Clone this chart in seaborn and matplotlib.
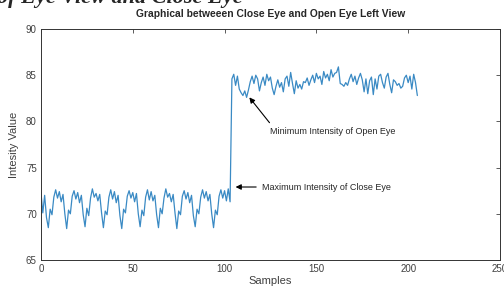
import numpy as np
import pandas as pd
import matplotlib
matplotlib.use("Agg")
import matplotlib.pyplot as plt
import seaborn as sns

# close eye samples 0..103
close_eye = [
    72.3, 70.1, 72.0, 69.6, 68.5, 70.5, 69.9, 71.8, 72.6, 71.7,
    72.4, 71.3, 72.1, 70.0, 68.4, 70.4, 70.0, 71.9, 72.5, 71.6,
    72.3, 71.2, 72.0, 69.9, 68.6, 70.6, 69.8, 71.7, 72.7, 71.8,
    72.2, 71.4, 72.1, 70.1, 68.5, 70.3, 69.9, 71.8, 72.6, 71.6,
    72.4, 71.2, 72.0, 69.8, 68.4, 70.5, 70.1, 71.9, 72.5, 71.7,
    72.3, 71.3, 72.2, 70.0, 68.6, 70.4, 69.8, 71.8, 72.6, 71.5,
    72.4, 71.4, 72.0, 69.9, 68.5, 70.6, 70.0, 71.7, 72.7, 71.8,
    72.2, 71.3, 72.1, 70.1, 68.4, 70.3, 69.9, 71.9, 72.5, 71.6,
    72.3, 71.2, 72.0, 69.8, 68.6, 70.5, 70.0, 71.8, 72.6, 71.7,
    72.4, 71.4, 72.1, 70.0, 68.5, 70.4, 69.9, 71.9, 72.6, 71.7,
    72.5, 71.4, 72.7, 71.3,
]
# open eye samples 104..205
open_eye = [
    84.6, 85.1, 83.9, 84.9, 83.5, 83.1, 82.8, 83.3, 82.6, 83.4,
    84.3, 84.9, 84.1, 85.0, 84.6, 83.3, 84.2, 84.8, 83.9, 85.1,
    84.4, 84.8, 83.6, 82.9, 83.8, 84.5, 83.7, 84.2, 83.2, 84.6,
    84.9, 83.8, 85.3, 84.1, 83.0, 84.4, 83.6, 84.0, 83.5, 84.3,
    84.2, 84.7, 83.9, 84.5, 85.0, 84.2, 85.2, 84.6, 84.9, 84.0,
    85.4, 84.7, 85.1, 84.4, 85.6, 84.8, 85.2, 85.3, 85.9, 84.1,
    84.0, 83.8, 84.2, 83.9, 84.6, 85.1, 84.3, 84.9, 84.0, 84.7,
    85.2, 84.5, 83.2, 84.6, 83.0, 84.4, 84.8, 82.9, 84.6, 83.5,
    84.9, 85.1, 84.2, 83.6, 84.8, 85.2, 84.0, 83.1, 84.5, 84.3,
    83.9, 84.1, 83.6, 83.8, 84.7, 85.0, 84.2, 84.9, 83.5, 85.1,
    84.2, 82.8,
]
x_ticks = [0, 50, 100, 150, 200, 250]
y_ticks = [65, 70, 75, 80, 85, 90]

values = close_eye + open_eye
df = pd.DataFrame({"Samples": np.arange(len(values)), "Intensity": values})

sns.set_style("white")
plt.rcParams['font.family'] = ['Liberation Sans', 'DejaVu Sans']

fig = plt.figure(figsize=(5.04, 2.86), dpi=100)
ax = fig.add_axes([0.0813, 0.0909, 0.9107, 0.8077])

sns.lineplot(data=df, x="Samples", y="Intensity", color="#3a8ac4", linewidth=0.9, ax=ax)

ax.set_xlim(0, 250)
ax.set_ylim(65, 90)
ax.set_xticks(x_ticks)
ax.set_yticks(y_ticks)
ax.tick_params(direction="in", length=3, width=0.6, labelsize=7, colors="#404040",
               top=True, right=True, pad=3)
for s in ax.spines.values():
    s.set_linewidth(0.7)
    s.set_color("#333333")
    s.set_visible(True)

ax.set_xlabel("Samples", fontsize=8, color="#404040", labelpad=1)
ax.set_ylabel("Intesity Value", fontsize=8, color="#404040", labelpad=5)
ax.set_title("Graphical betweeen Close Eye and Open Eye Left View", fontsize=7.4,
             fontweight="bold", pad=9)

ax.annotate("Minimum Intensity of Open Eye", xy=(113.5, 82.6), xytext=(125, 78.9),
            fontsize=6.5, va="center", ha="left",
            arrowprops=dict(arrowstyle="-|>", color="black", lw=0.8, relpos=(0.02, 1.0),
                            shrinkA=1, shrinkB=0, mutation_scale=8))
ax.annotate("Maximum Intensity of Close Eye", xy=(106, 72.9), xytext=(120.5, 72.9),
            fontsize=6.5, va="center", ha="left",
            arrowprops=dict(arrowstyle="-|>", color="black", lw=0.8,
                            shrinkA=2, shrinkB=0, mutation_scale=8))

# clipped caption of the page above the chart
fig.text(-0.005, 1 - 3 / 286, "of Eye View and Close Eye", fontsize=16,
         family="Liberation Serif", style="italic", fontweight="bold", va="baseline")

fig.savefig("out.png", dpi=100)
